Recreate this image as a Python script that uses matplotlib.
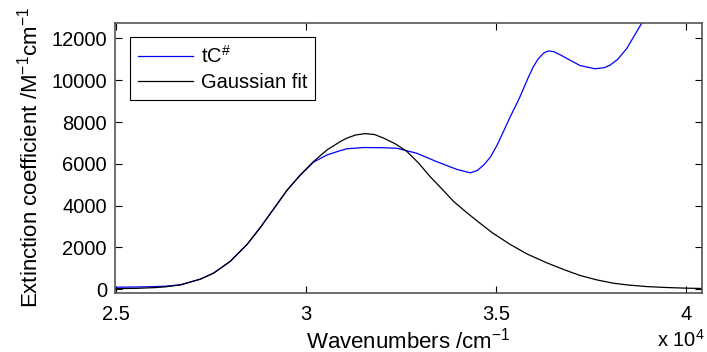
import numpy as np
import matplotlib
matplotlib.use("Agg")
import matplotlib.pyplot as plt
from matplotlib.ticker import FuncFormatter

plt.rcParams['font.family'] = ['Liberation Sans', 'DejaVu Sans']
plt.rcParams['mathtext.fontset'] = 'custom'
plt.rcParams['mathtext.rm'] = 'Liberation Sans'
plt.rcParams['mathtext.it'] = 'Liberation Sans'

# measured spectrum tC# (wavenumber /cm-1, extinction /M-1cm-1)
tc_x = [24970, 25500, 26000, 26300, 26685, 27210, 27560, 28000, 28440, 28790,
        29140, 29490, 29840, 30190, 30545, 30900, 31070, 31505, 32000, 32385,
        32910, 33440, 33970, 34320, 34500, 34670, 34850, 35020, 35200, 35370,
        35600, 35720, 35850, 35980, 36100, 36250, 36380, 36520, 36700, 36900,
        37210, 37600, 37850, 38000, 38200, 38440, 38830, 39100]
tc_y = [100, 110, 130, 150, 215, 485, 775, 1340, 2145, 2955,
        3840, 4730, 5460, 6080, 6425, 6635, 6720, 6780, 6770, 6745,
        6505, 6100, 5730, 5570, 5680, 5940, 6330, 6880, 7580, 8250,
        9100, 9600, 10150, 10650, 11000, 11300, 11400, 11360, 11200, 11000,
        10700, 10545, 10600, 10720, 11000, 11520, 12720, 13600]

# gaussian fit
fit_x = [24970, 25500, 26000, 26300, 26685, 27210, 27560, 28000, 28440, 28790,
         29140, 29490, 29840, 30190, 30545, 30900, 31070, 31300, 31550, 31800,
         32035, 32350, 32650, 32950, 33265, 33570, 33880, 34190, 34490, 34900,
         35370, 35800, 36340, 36800, 37210, 37650, 38090, 38500, 38970, 39500,
         40000, 40420]
fit_y = [30, 45, 80, 120, 210, 485, 775, 1340, 2145, 2955,
         3840, 4730, 5460, 6110, 6665, 7070, 7230, 7380, 7445, 7400,
         7230, 6950, 6590, 6050, 5380, 4800, 4200, 3720, 3280, 2700,
         2145, 1700, 1260, 930, 660, 450, 290, 200, 130, 85,
         55, 40]

fig = plt.figure(figsize=(7.07, 3.52), dpi=100)
ax = fig.add_axes([0.163, 0.168, 0.830, 0.767])

ax.plot(tc_x, tc_y, color="#0000ff", lw=0.9, label="tC$^{\\#}$")
ax.plot(fit_x, fit_y, color="black", lw=0.9, label="Gaussian fit")

ax.set_xlim(24970, 40420)
ax.set_ylim(-170, 12740)
ax.set_xticks([25000, 30000, 35000, 40000])
ax.set_yticks(np.arange(0, 12001, 2000))
ax.xaxis.set_major_formatter(FuncFormatter(lambda v, p: "%g" % (v / 1e4)))
ax.tick_params(direction="in", top=True, right=True, length=5, width=0.8,
               labelsize=14.5)
ax.tick_params(axis="x", pad=9)
ax.tick_params(axis="y", pad=6)
for s in ax.spines.values():
    s.set_color("#555555")
    s.set_linewidth(1.2)

ax.set_xlabel("Wavenumbers /cm$^{-1}$", fontsize=16, labelpad=2)
ax.set_ylabel("Extinction coefficient /M$^{-1}$cm$^{-1}$", fontsize=16, labelpad=6)
fig.text(705 / 707, 5 / 352, "x 10$^{4}$", fontsize=14.5, ha="right", va="baseline")

leg = ax.legend(loc="upper left", bbox_to_anchor=(0.0256, 0.948), borderaxespad=0,
                fontsize=14.5, fancybox=False, framealpha=1, edgecolor="black",
                handlelength=2.7, handletextpad=0.4, labelspacing=0.3,
                borderpad=0.4)
leg.get_frame().set_linewidth(0.8)

plt.savefig("out.png", dpi=100)
